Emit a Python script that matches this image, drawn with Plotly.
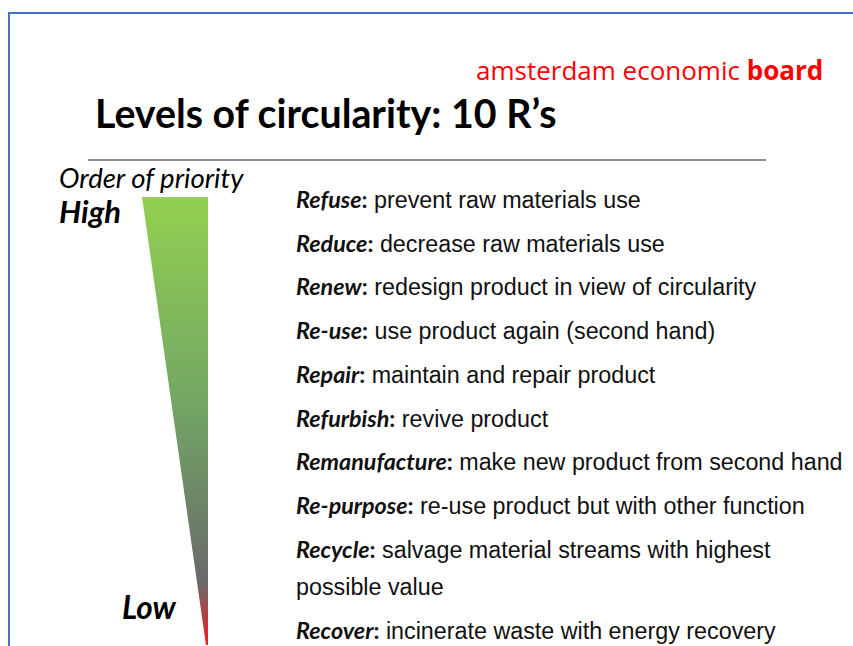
import plotly.graph_objects as go

W, H = 853, 646

title = "Levels of circularity: 10 R’s"
brand_light = "amsterdam economic "
brand_bold = "board"
axis_caption = "Order of priority"
high_label = "High"
low_label = "Low"

r_names = ["Refuse", "Reduce", "Renew", "Re-use", "Repair", "Refurbish",
           "Remanufacture", "Re-purpose", "Recycle", "Recover"]
r_desc = ["prevent raw materials use",
          "decrease raw materials use",
          "redesign product in view of circularity",
          "use product again (second hand)",
          "maintain and repair product",
          "revive product",
          "make new product from second hand",
          "re-use product but with other function",
          "salvage material streams with highest\npossible value",
          "incinerate waste with energy recovery"]

# priority wedge: gradient stops (fraction from top, colour)
wedge_stops = [[0.0, "#92D050"], [0.45, "#73A764"], [0.86, "#6A6A6A"], [1.0, "#F01A22"]]

fig = go.Figure()

# wedge (inverted triangle)
wx = [142, 208, 208, 206, 142]
wy = [197, 197, 645, 645, 197]
fig.add_trace(go.Scatter(
    x=wx, y=wy, mode="lines", fill="toself", line=dict(width=0),
    fillgradient=dict(type="vertical", colorscale=wedge_stops, start=197, stop=645),
    hoverinfo="skip", showlegend=False))

ann = []
name_font = "Lato"
desc_font = "Liberation Sans, Arial"
FS = 23.3

y0, step, wrap_step = 199, 43.7, 38
y = y0
for name, desc in zip(r_names, r_desc):
    lines = desc.split("\n")
    first = (f'<span style="font-family:{name_font};font-size:{FS}px"><b><i>{name}</i>:</b></span> '
             f'{lines[0]}')
    ann.append(dict(x=294, y=y, text=first, xanchor="left", yanchor="middle", showarrow=False,
                    font=dict(family=desc_font, size=FS, color="#111111")))
    for extra in lines[1:]:
        y += wrap_step
        ann.append(dict(x=294, y=y, text=extra, xanchor="left", yanchor="middle", showarrow=False,
                        font=dict(family=desc_font, size=FS, color="#111111")))
    y += step

ann += [
    dict(x=93, y=112, text=f"<b>{title}</b>", xanchor="left", yanchor="middle", showarrow=False,
         font=dict(family="Lato", size=39.3, color="#000000")),
    dict(x=825, y=70, text=f"{brand_light}<b>{brand_bold}</b>", xanchor="right", yanchor="middle",
         showarrow=False, font=dict(family="Open Sans", size=26, color="#FF0000")),
    dict(x=57, y=177, text=f"<i>{axis_caption}</i>", xanchor="left", yanchor="middle", showarrow=False,
         font=dict(family="Lato", size=27.5, color="#000000")),
    dict(x=57, y=211, text=f"<b><i>{high_label}</i></b>", xanchor="left", yanchor="middle", showarrow=False,
         font=dict(family="Lato", size=31, color="#000000")),
    dict(x=120, y=607, text=f"<b><i>{low_label}</i></b>", xanchor="left", yanchor="middle", showarrow=False,
         font=dict(family="Lato", size=31.5, color="#000000")),
]

shapes = [
    dict(type="rect", xref="x", yref="y", x0=9, y0=13, x1=900, y1=700,
         line=dict(color="#4472C4", width=2)),
    dict(type="line", xref="x", yref="y", x0=88, y0=160, x1=766, y1=160,
         line=dict(color="#8C8C8C", width=2)),
]

fig.update_layout(
    width=W, height=H, margin=dict(l=0, r=0, t=0, b=0),
    paper_bgcolor="white", plot_bgcolor="white",
    xaxis=dict(range=[0, W], visible=False, fixedrange=True),
    yaxis=dict(range=[H, 0], visible=False, fixedrange=True),
    annotations=ann, shapes=shapes, showlegend=False,
)

fig.write_html("out.html",
               config={"displayModeBar": False},
               post_script="document.body.style.margin='0';"
                           "document.documentElement.style.overflow='hidden';"
                           "document.body.style.overflow='hidden';")
